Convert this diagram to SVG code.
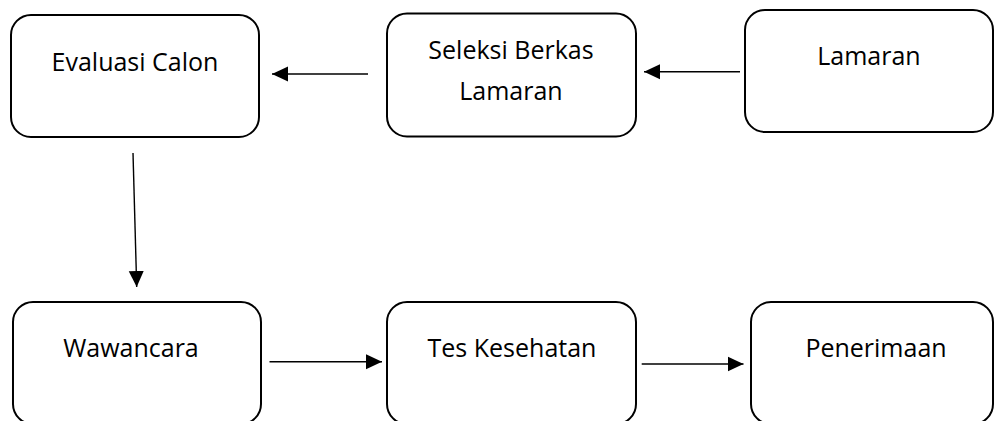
<svg xmlns="http://www.w3.org/2000/svg" width="994" height="421" viewBox="0 0 994 421">
<style>
.box{fill:#fff;stroke:#000;stroke-width:2}
.lbl{font-family:"Open Sans","Liberation Sans",sans-serif;font-size:25px;fill:#000;text-anchor:middle}
.conn{stroke:#000;stroke-width:1.4;fill:none;marker-end:url(#ah)}
</style>
<defs>
<marker id="ah" markerUnits="userSpaceOnUse" markerWidth="16" markerHeight="16" viewBox="0 0 16 16" refX="16" refY="8" orient="auto">
<path d="M0,0.5 L16,8 L0,15.5 Z" fill="#000"/>
</marker>
</defs>
<rect width="994" height="421" fill="#fff"/>
<g id="evaluasi">
<rect class="box" x="11" y="15" width="248" height="122" rx="20"/>
<text class="lbl" x="135" y="71">Evaluasi Calon</text>
</g>
<g id="seleksi">
<rect class="box" x="387" y="13.5" width="249" height="123" rx="20"/>
<text class="lbl" x="511" y="59">Seleksi Berkas</text>
<text class="lbl" x="511" y="100">Lamaran</text>
</g>
<g id="lamaran">
<rect class="box" x="745" y="10" width="248" height="122" rx="20"/>
<text class="lbl" x="869" y="65">Lamaran</text>
</g>
<g id="wawancara">
<rect class="box" x="13" y="302" width="248" height="122" rx="20"/>
<text class="lbl" x="131" y="357">Wawancara</text>
</g>
<g id="tes">
<rect class="box" x="387" y="302" width="249" height="122" rx="20"/>
<text class="lbl" x="512" y="357">Tes Kesehatan</text>
</g>
<g id="penerimaan">
<rect class="box" x="751" y="302" width="242" height="122" rx="20"/>
<text class="lbl" x="876" y="357">Penerimaan</text>
</g>
<g id="connectors">
<line class="conn" x1="740" y1="71.7" x2="644" y2="71.7"/>
<line class="conn" x1="368" y1="74" x2="272" y2="74"/>
<line class="conn" x1="133" y1="153" x2="136.7" y2="287"/>
<line class="conn" x1="269.5" y1="361.7" x2="382" y2="361.7"/>
<line class="conn" x1="641.7" y1="364" x2="743.5" y2="364"/>
</g>
</svg>
